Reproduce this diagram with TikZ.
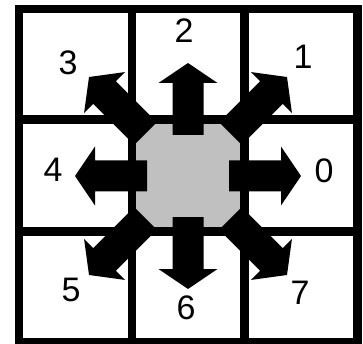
\documentclass[tikz,border=0pt]{standalone}
\usepackage{fontspec}
\setmainfont{Liberation Sans}
\definecolor{cellgray}{RGB}{192,192,192}
\begin{document}
\begin{tikzpicture}[x=1pt,y=-1pt,
  gridline/.style={line width=8.5pt,black,line cap=rect},
  lbl/.style={font=\fontsize{34}{34}\selectfont,inner sep=0pt,anchor=center},
  arrowshape/.style={fill=black,draw=none}]
\useasboundingbox (0,0) rectangle (363,344);
\coordinate (c) at (188,176);
% gray center
\fill[cellgray] (136,124) rectangle (240,227.5);
% grid
\foreach \x in {19,132,244.5,357.5} \draw[gridline] (\x,9) -- (\x,342);
\foreach \y in {9,119.5,231.5,342} \draw[gridline] (19,\y) -- (357.5,\y);
% straight arrows
\foreach \a in {0,90,180,270}
  \fill[arrowshape,shift={(c)},rotate=\a] (41,-15.5) -- (93,-15.5) -- (93,-29.5) -- (113,0) -- (93,29.5) -- (93,15.5) -- (41,15.5) -- cycle;
% diagonal arrows
\foreach \a in {45,135,225,315}
  \fill[arrowshape,shift={(c)},rotate=\a] (60,-16) -- (118,-16) -- (118,-29) -- (140,0) -- (118,29) -- (118,16) -- (60,16) -- cycle;
% labels
\node[lbl] (l0) at (324,171) {0};
\node[lbl] (l1) at (303,57) {1};
\node[lbl] (l2) at (184,31) {2};
\node[lbl] (l3) at (68,63) {3};
\node[lbl] (l4) at (53,170) {4};
\node[lbl] (l5) at (71,290) {5};
\node[lbl] (l6) at (186,308) {6};
\node[lbl] (l7) at (300,293) {7};
\end{tikzpicture}
\end{document}
